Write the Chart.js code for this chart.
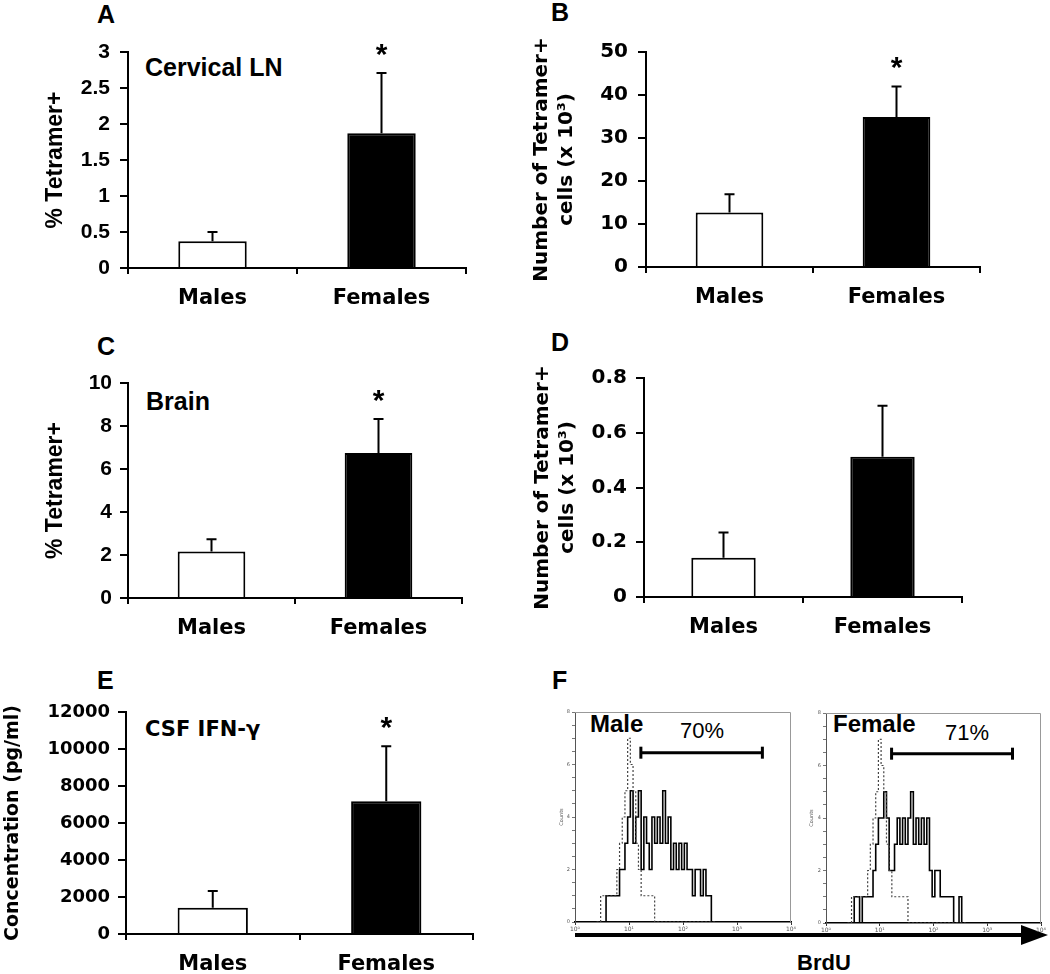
<!DOCTYPE html>
<html>
<head>
<meta charset="utf-8">
<script src="https://cdn.jsdelivr.net/npm/chart.js@4.4.1/dist/chart.umd.min.js"></script>
<style>
  body { margin: 0; background: #fff; width: 1050px; height: 974px; position: relative; overflow: hidden; }
  canvas { position: absolute; }
  .txt { position: absolute; line-height: 1; white-space: nowrap; color: #000; }
  .arial { font-family: "Liberation Sans", Arial, sans-serif; font-weight: bold; }
  .verd { font-family: "DejaVu Sans", Verdana, sans-serif; font-weight: bold; }
  .plain { font-family: "Liberation Sans", Arial, sans-serif; font-weight: normal; }
</style>
</head>
<body>
<div class="txt arial" style="left:97px;top:2px;font-size:25px">A</div>
<div class="txt arial" style="left:551px;top:0px;font-size:25px">B</div>
<div class="txt arial" style="left:97px;top:334px;font-size:25px">C</div>
<div class="txt arial" style="left:551px;top:330px;font-size:25px">D</div>
<div class="txt arial" style="left:97px;top:668px;font-size:25px">E</div>
<div class="txt arial" style="left:552px;top:668px;font-size:25px">F</div>

<div class="txt arial" style="left:145px;top:55px;font-size:25px">Cervical LN</div>
<div class="txt arial" style="left:146px;top:389px;font-size:25px">Brain</div>
<div class="txt verd" style="left:145px;top:719px;font-size:21px">CSF IFN-γ</div>

<div class="txt arial" style="left:590px;top:712px;font-size:24px">Male</div>
<div class="txt plain" style="left:680px;top:720px;font-size:22px">70%</div>
<div class="txt arial" style="left:833px;top:712px;font-size:24px">Female</div>
<div class="txt plain" style="left:945px;top:722px;font-size:22px">71%</div>
<div class="txt arial" style="left:797px;top:952px;font-size:22px">BrdU</div>

<svg style="position:absolute;left:573px;top:922px" width="477" height="26">
  <line x1="2" y1="13" x2="452" y2="13" stroke="#000" stroke-width="4"/>
  <polygon points="448,3 475,13 448,23" fill="#000"/>
</svg>

<script>
const categories = ["Males", "Females"];

// A: cervical LN, % tetramer+
const lnPercent = [0.37, 1.87];
const lnPercentSem = [0.13, 0.84];
// B: cervical LN, tetramer+ cells (x 10^3)
const lnCells = [12.7, 34.9];
const lnCellsSem = [4.2, 7.1];
// C: brain, % tetramer+
const brainPercent = [2.16, 6.75];
const brainPercentSem = [0.57, 1.57];
// D: brain, tetramer+ cells (x 10^3)
const brainCells = [0.143, 0.512];
const brainCellsSem = [0.093, 0.187];
// E: CSF IFN-gamma (pg/ml)
const csfIfng = [1420, 7180];
const csfIfngSem = [900, 2970];

// F: BrdU histograms, bins in log10 units of fluorescence
const brduBins = [0.40, 0.45, 0.50, 0.55, 0.60, 0.65, 0.70, 0.75, 0.80, 0.85,
  0.90, 0.95, 1.00, 1.05, 1.10, 1.15, 1.20, 1.25, 1.30, 1.35,
  1.40, 1.45, 1.50, 1.55, 1.60, 1.65, 1.70, 1.75, 1.80, 1.85,
  1.90, 1.95, 2.00, 2.05, 2.10, 2.15, 2.20, 2.25, 2.30, 2.35,
  2.40, 2.45, 2.50, 2.55, 2.60];
const maleControl = [0, 0, 1, 1, 1, 1, 1, 1, 2, 3,
  4, 5, 7, 6, 5, 3, 2, 1, 1, 1,
  1, 1, 0, 0, 0, 0, 0, 0, 0, 0,
  0, 0, 0, 0, 0, 0, 0, 0, 0, 0,
  0, 0, 0, 0, 0];
const maleBrdu = [0, 0, 0, 0, 1, 1, 1, 1, 1, 2,
  2, 3, 4, 5, 3, 4, 5, 2, 4, 3,
  2, 4, 3, 4, 3, 5, 3, 4, 2, 3,
  2, 3, 2, 3, 2, 2, 1, 2, 2, 1,
  2, 1, 1, 0, 0];
const femaleControl = [0, 0, 1, 1, 1, 1, 1, 1, 2, 3,
  4, 5, 7, 6, 5, 3, 2, 1, 1, 1,
  1, 1, 1, 0, 0, 0, 0, 0, 0, 0,
  0, 0, 0, 0, 0, 0, 0, 0, 0, 0,
  0, 0, 0, 0, 0];
const femaleBrdu = [0, 0, 0, 1, 1, 0, 1, 1, 1, 1,
  2, 3, 4, 4, 5, 4, 2, 2, 3, 4,
  3, 4, 3, 4, 5, 3, 4, 3, 4, 3,
  4, 2, 1, 2, 2, 1, 1, 1, 1, 1,
  0, 0, 1, 0, 0];
const gateRange = [1.22, 3.47];
const gateCount = 6.45;
const decadeLabels = ["10⁰", "10¹", "10²", "10³", "10⁴"];

const errorBars = {
  id: "errorBars",
  afterDatasetsDraw(chart, args, opts) {
    const ctx = chart.ctx;
    const y = chart.scales.y;
    const ds = chart.data.datasets[0];
    const meta = chart.getDatasetMeta(0);
    ctx.save();
    ctx.strokeStyle = "#000";
    ctx.lineWidth = 2;
    ctx.fillStyle = "#000";
    ctx.font = "bold 30px 'Liberation Sans', Arial, sans-serif";
    ctx.textAlign = "center";
    ctx.textBaseline = "alphabetic";
    meta.data.forEach((bar, i) => {
      const top = y.getPixelForValue(ds.data[i] + opts.sem[i]);
      ctx.beginPath();
      ctx.moveTo(bar.x, bar.y);
      ctx.lineTo(bar.x, top);
      ctx.moveTo(bar.x - 5, top);
      ctx.lineTo(bar.x + 5, top);
      ctx.stroke();
      if (opts.stars[i]) ctx.fillText("*", bar.x, top - 9);
    });
    ctx.restore();
  }
};

function place(id, box) {
  const c = document.createElement("canvas");
  c.id = id;
  c.width = box.w;
  c.height = box.h;
  c.style.left = box.x + "px";
  c.style.top = box.y + "px";
  document.body.appendChild(c);
  return c.getContext("2d");
}

function barPanel(p) {
  const ctx = place(p.id, p.box);
  new Chart(ctx, {
    type: "bar",
    data: {
      labels: categories,
      datasets: [{
        data: p.values,
        backgroundColor: ["#fff", "#000"],
        borderColor: "#000",
        borderWidth: 2,
        borderSkipped: "bottom",
        barPercentage: 0.405,
        categoryPercentage: 1
      }]
    },
    options: {
      responsive: false,
      animation: false,
      layout: {
        padding: {
          left: 0,
          top: p.area.t - p.box.y,
          right: p.box.x + p.box.w - p.area.r,
          bottom: 0
        }
      },
      plugins: {
        legend: { display: false },
        tooltip: { enabled: false },
        errorBars: { sem: p.sem, stars: p.stars }
      },
      scales: {
        x: {
          afterFit: s => { s.height = p.box.y + p.box.h - p.area.b; },
          grid: { drawOnChartArea: false, drawTicks: true, tickLength: 6, color: "#000", lineWidth: 2 },
          border: { color: "#000", width: 2 },
          ticks: { color: "#000", padding: 12, font: { family: "'DejaVu Sans', Verdana, sans-serif", weight: "bold", size: 21 } }
        },
        y: {
          min: 0,
          max: p.max,
          afterFit: s => { s.width = p.area.l - p.box.x; },
          grid: { drawOnChartArea: false, drawTicks: true, tickLength: 8, color: "#000", lineWidth: 2 },
          border: { color: "#000", width: 2 },
          ticks: {
            stepSize: p.step,
            color: "#000",
            padding: p.tickPad,
            font: p.tickFont,
            callback: v => String(Math.round(v * 1000) / 1000)
          },
          title: {
            display: true,
            text: p.title,
            color: "#000",
            font: p.titleFont,
            padding: { top: p.titlePad, bottom: 0 }
          }
        }
      }
    },
    plugins: [errorBars]
  });
}

const arialTick = { family: "'Liberation Sans', Arial, sans-serif", weight: "bold", size: 21 };
const verdTick = { family: "'DejaVu Sans', Verdana, sans-serif", weight: "bold", size: 20 };

barPanel({
  id: "panelA", box: { x: 0, y: 0, w: 490, h: 325 }, area: { l: 128, t: 52, r: 466, b: 268 },
  values: lnPercent, sem: lnPercentSem, stars: [false, true], max: 3, step: 0.5,
  tickFont: arialTick, tickPad: 10,
  title: "% Tetramer+", titleFont: { family: "'Liberation Sans', Arial, sans-serif", weight: "bold", size: 23 }, titlePad: 42
});
barPanel({
  id: "panelB", box: { x: 510, y: 0, w: 510, h: 325 }, area: { l: 646, t: 52, r: 980, b: 267 },
  values: lnCells, sem: lnCellsSem, stars: [false, true], max: 50, step: 10,
  tickFont: verdTick, tickPad: 10,
  title: ["Number of Tetramer+", "cells (x 10³)"],
  titleFont: { family: "'DejaVu Sans', Verdana, sans-serif", weight: "bold", size: 20, lineHeight: 1.25 }, titlePad: 19
});
barPanel({
  id: "panelC", box: { x: 0, y: 330, w: 490, h: 325 }, area: { l: 128, t: 383, r: 462, b: 598 },
  values: brainPercent, sem: brainPercentSem, stars: [false, true], max: 10, step: 2,
  tickFont: arialTick, tickPad: 8,
  title: "% Tetramer+", titleFont: { family: "'Liberation Sans', Arial, sans-serif", weight: "bold", size: 23 }, titlePad: 42
});
barPanel({
  id: "panelD", box: { x: 510, y: 330, w: 510, h: 325 }, area: { l: 644, t: 378, r: 962, b: 597 },
  values: brainCells, sem: brainCellsSem, stars: [false, false], max: 0.8, step: 0.2,
  tickFont: verdTick, tickPad: 9,
  title: ["Number of Tetramer+", "cells (x 10³)"],
  titleFont: { family: "'DejaVu Sans', Verdana, sans-serif", weight: "bold", size: 20, lineHeight: 1.25 }, titlePad: 20
});
barPanel({
  id: "panelE", box: { x: 0, y: 655, w: 490, h: 319 }, area: { l: 126, t: 712, r: 473, b: 934 },
  values: csfIfng, sem: csfIfngSem, stars: [false, true], max: 12000, step: 2000,
  tickFont: { family: "'DejaVu Sans', Verdana, sans-serif", weight: "bold", size: 18 }, tickPad: 8,
  title: "Concentration (pg/ml)",
  titleFont: { family: "'DejaVu Sans', Verdana, sans-serif", weight: "bold", size: 19 }, titlePad: 2
});

const frame = {
  id: "frame",
  beforeDatasetsDraw(chart) {
    const { ctx, chartArea: a } = chart;
    ctx.save();
    ctx.strokeStyle = "#999";
    ctx.lineWidth = 1;
    ctx.beginPath();
    ctx.moveTo(a.left, a.top + 0.5);
    ctx.lineTo(a.right - 0.5, a.top + 0.5);
    ctx.lineTo(a.right - 0.5, a.bottom);
    ctx.stroke();
    ctx.restore();
  }
};

function histPanel(id, box, area, control, brdu) {
  const ctx = place(id, box);
  new Chart(ctx, {
    type: "line",
    data: {
      datasets: [
        {
          data: brduBins.map((b, i) => ({ x: b, y: control[i] })),
          stepped: "middle",
          borderColor: "#444",
          borderWidth: 1.2,
          borderDash: [2, 2],
          pointRadius: 0
        },
        {
          data: brduBins.map((b, i) => ({ x: b, y: brdu[i] })),
          stepped: "middle",
          borderColor: "#000",
          borderWidth: 1.6,
          pointRadius: 0
        },
        {
          data: gateRange.map(g => ({ x: g, y: gateCount })),
          borderColor: "#000",
          borderWidth: 3,
          pointStyle: "line",
          rotation: 90,
          pointRadius: 6,
          pointBorderWidth: 3,
          pointBorderColor: "#000"
        }
      ]
    },
    options: {
      responsive: false,
      animation: false,
      layout: { padding: { left: 0, top: area.t - box.y, right: box.x + box.w - area.r, bottom: 0 } },
      plugins: { legend: { display: false }, tooltip: { enabled: false } },
      scales: {
        x: {
          type: "linear",
          min: 0,
          max: 4,
          afterFit: s => { s.height = box.y + box.h - area.b; },
          grid: { drawOnChartArea: false, tickLength: 3, color: "#333", lineWidth: 1 },
          border: { color: "#000", width: 1.5 },
          ticks: {
            stepSize: 1,
            padding: 1,
            color: "#555",
            font: { family: "'DejaVu Sans', sans-serif", size: 6 },
            callback: v => decadeLabels[v]
          }
        },
        y: {
          min: 0,
          max: 8,
          afterFit: s => { s.width = area.l - box.x; },
          grid: { drawOnChartArea: false, tickLength: 3, color: "#555", lineWidth: 0.8 },
          border: { color: "#555", width: 1 },
          ticks: {
            stepSize: 0.5,
            padding: 2,
            color: "#555",
            font: { family: "'DejaVu Sans', sans-serif", size: 5 },
            callback: v => (v % 2 === 0 ? String(v) : "")
          },
          title: {
            display: true,
            text: "Counts",
            color: "#555",
            font: { family: "'DejaVu Sans', sans-serif", size: 5 },
            padding: { top: 4, bottom: 0 }
          }
        }
      }
    },
    plugins: [frame]
  });
}

histPanel("panelFm", { x: 555, y: 700, w: 245, h: 235 }, { l: 575, t: 712, r: 795, b: 922 }, maleControl, maleBrdu);
histPanel("panelFf", { x: 805, y: 700, w: 245, h: 235 }, { l: 826, t: 713, r: 1045, b: 923 }, femaleControl, femaleBrdu);
</script>
</body>
</html>
